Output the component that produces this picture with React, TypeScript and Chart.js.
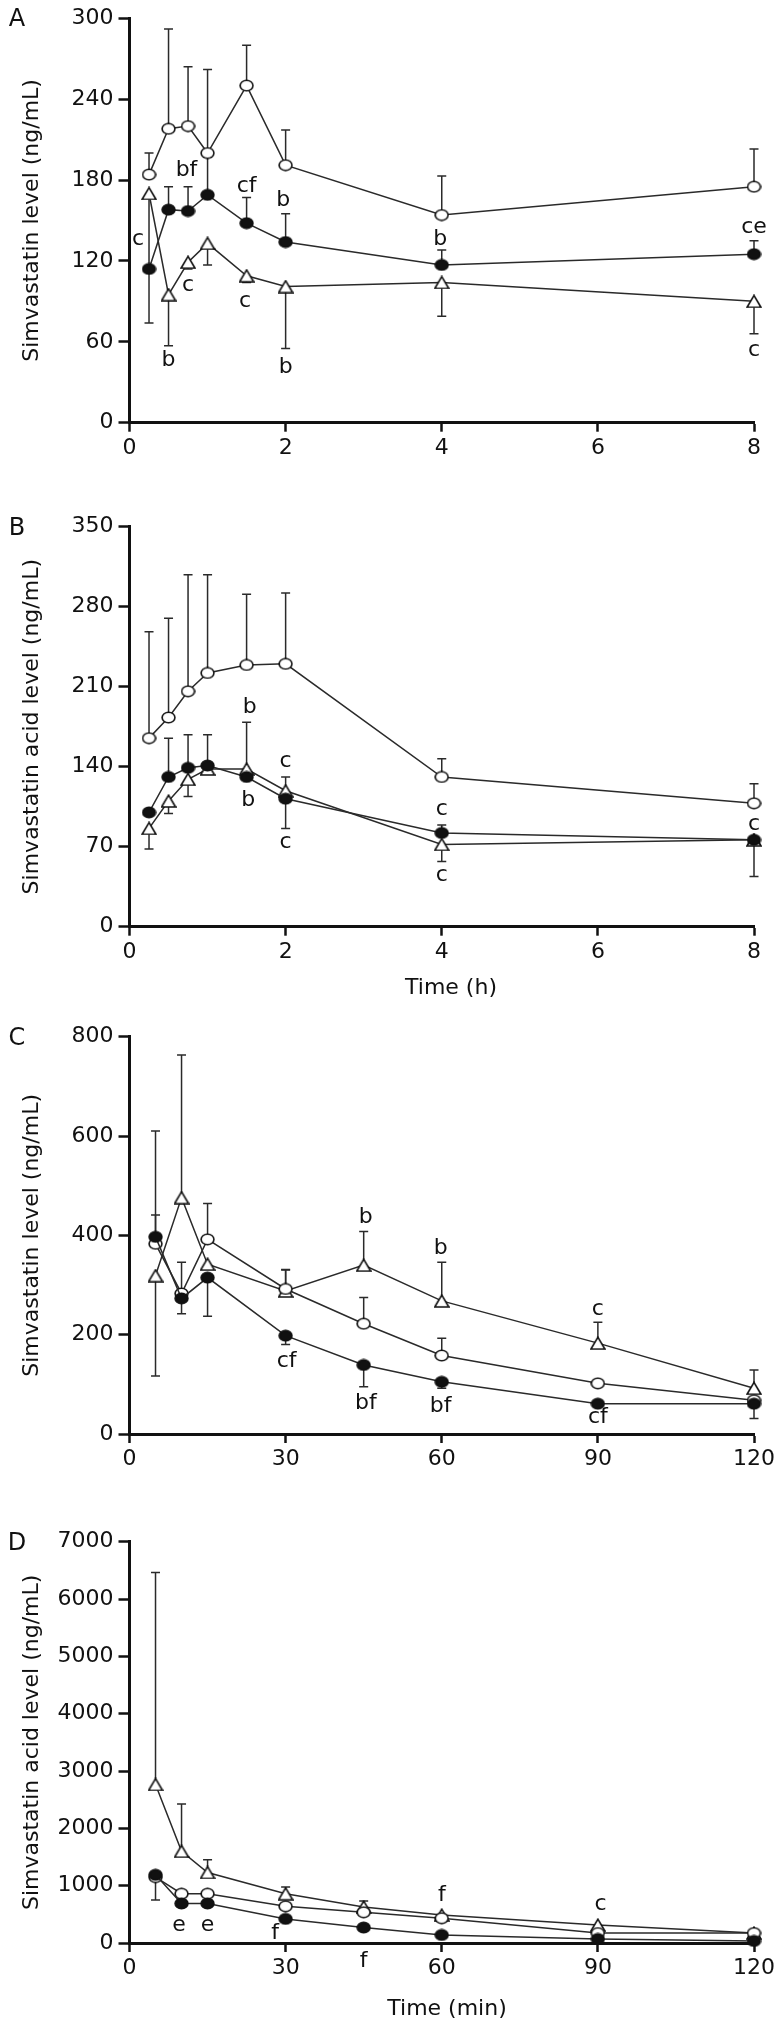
import React, { useEffect, useRef } from "react";
import { Chart, registerables } from "chart.js";

Chart.register(...registerables);

const FONT = '"DejaVu Sans", sans-serif';

// ---------- data ----------
const HOURS = [0.25, 0.5, 0.75, 1, 1.5, 2, 4, 8];
const MINUTES = [5, 10, 15, 30, 45, 60, 90, 120];

// Panel A: simvastatin level (ng/mL), hours
const A_OPEN = [184, 218, 220, 200, 250, 191, 154, 175];
const A_OPEN_ERR = [200, 292, 264, 262, 280, 217, 183, 203];
const A_FILLED = [114, 158, 157, 169, 148, 134, 117, 125];
const A_FILLED_ERR = [null, 175, 175, 197, 167, 155, 128, 135];
const A_TRI = [170, 95, 119, 133, 109, 101, 104, 90];
const A_TRI_ERR = [74, 57, 114, 117, 104, 55, 79, 66];
const A_NOTES: [number, number, string][] = [
  [0.11, 136, "c"], [0.5, 46, "b"], [0.73, 187, "bf"], [0.75, 102, "c"],
  [1.5, 175, "cf"], [1.48, 90, "c"], [1.97, 165, "b"], [2, 41, "b"],
  [3.98, 136, "b"], [8, 145, "ce"], [8, 54, "c"],
];

// Panel B: simvastatin acid level (ng/mL), hours
const B_OPEN = [165, 183, 206, 222, 229, 230, 131, 108];
const B_OPEN_ERR = [258, 270, 308, 308, 291, 292, 147, 125];
const B_FILLED = [100, 131, 139, 141, 131, 112, 82, 76];
const B_FILLED_ERR = [null, 165, 168, 168, 179, 86, 89, 44];
const B_TRI = [86, 110, 129, 138, 138, 119, 72, 76];
const B_TRI_ERR = [68, 99, 114, null, null, 131, 57, null];
const B_NOTES: [number, number, string][] = [
  [1.54, 192, "b"], [1.52, 111, "b"], [2, 145, "c"], [2, 74, "c"],
  [4, 103, "c"], [4, 45, "c"], [8, 90, "c"],
];

// Panel C: simvastatin level (ng/mL), minutes
const C_OPEN = [383, 283, 392, 292, 222, 158, 102, 68];
const C_OPEN_ERR = [441, 346, 464, 330, 275, 193, null, null];
const C_FILLED = [397, 273, 315, 198, 139, 105, 61, 61];
const C_FILLED_ERR = [610, 242, 237, 180, 95, 92, null, 31];
const C_TRI = [319, 476, 342, 288, 340, 268, 183, 92];
const C_TRI_ERR = [117, 763, null, 331, 408, 346, 225, 129];
const C_NOTES: [number, number, string][] = [
  [45.4, 437, "b"], [59.8, 373, "b"], [90, 252, "c"], [30.2, 146, "cf"],
  [45.4, 62, "bf"], [59.8, 56, "bf"], [90, 33, "cf"],
];

// Panel D: simvastatin acid level (ng/mL), minutes
const D_OPEN = [1150, 860, 860, 640, 536, 432, 174, 174];
const D_OPEN_ERR = [null, null, null, null, null, null, null, null];
const D_FILLED = [1190, 690, 690, 420, 270, 140, 70, 35];
const D_FILLED_ERR = [750, null, null, null, null, null, null, null];
const D_TRI = [2765, 1600, 1230, 860, 630, 488, 313, 174];
const D_TRI_ERR = [6463, 2424, 1450, 975, 731, null, null, null];
const D_NOTES: [number, number, string][] = [
  [9.5, 310, "e"], [15, 310, "e"], [28, 174, "f"], [45, -313, "f"],
  [60, 836, "f"], [90.5, 683, "c"],
];

const A_Y_TICKS = [0, 60, 120, 180, 240, 300];
const B_Y_TICKS = [0, 70, 140, 210, 280, 350];
const C_Y_TICKS = [0, 200, 400, 600, 800];
const D_Y_TICKS = [0, 1000, 2000, 3000, 4000, 5000, 6000, 7000];
const H_X_TICKS = [0, 2, 4, 6, 8];
const M_X_TICKS = [0, 30, 60, 90, 120];

type Kind = "open" | "filled" | "tri";
type Series = { kind: Kind; values: number[]; errs: (number | null)[] };
type Panel = {
  letter: string;
  top: number;
  height: number;
  plotTop: number;
  plotBottom: number;
  yTitle: string;
  xTitle?: string;
  xTitleX?: number;
  xTitleY?: number;
  times: number[];
  xTicks: number[];
  yTicks: number[];
  series: Series[];
  notes: [number, number, string][];
};

const PANELS: Panel[] = [
  {
    letter: "A", top: 0, height: 470, plotTop: 18, plotBottom: 422.7,
    yTitle: "Simvastatin level (ng/mL)", times: HOURS, xTicks: H_X_TICKS, yTicks: A_Y_TICKS,
    series: [
      { kind: "filled", values: A_FILLED, errs: A_FILLED_ERR },
      { kind: "open", values: A_OPEN, errs: A_OPEN_ERR },
      { kind: "tri", values: A_TRI, errs: A_TRI_ERR },
    ],
    notes: A_NOTES,
  },
  {
    letter: "B", top: 470, height: 540, plotTop: 526.7, plotBottom: 926.7,
    yTitle: "Simvastatin acid level (ng/mL)", xTitle: "Time (h)", xTitleX: 451, xTitleY: 988,
    times: HOURS, xTicks: H_X_TICKS, yTicks: B_Y_TICKS,
    series: [
      { kind: "filled", values: B_FILLED, errs: B_FILLED_ERR },
      { kind: "open", values: B_OPEN, errs: B_OPEN_ERR },
      { kind: "tri", values: B_TRI, errs: B_TRI_ERR },
    ],
    notes: B_NOTES,
  },
  {
    letter: "C", top: 1010, height: 480, plotTop: 1036.7, plotBottom: 1434,
    yTitle: "Simvastatin level (ng/mL)", times: MINUTES, xTicks: M_X_TICKS, yTicks: C_Y_TICKS,
    series: [
      { kind: "filled", values: C_FILLED, errs: C_FILLED_ERR },
      { kind: "open", values: C_OPEN, errs: C_OPEN_ERR },
      { kind: "tri", values: C_TRI, errs: C_TRI_ERR },
    ],
    notes: C_NOTES,
  },
  {
    letter: "D", top: 1490, height: 536, plotTop: 1541.7, plotBottom: 1943,
    yTitle: "Simvastatin acid level (ng/mL)", xTitle: "Time (min)", xTitleX: 447, xTitleY: 2009,
    times: MINUTES, xTicks: M_X_TICKS, yTicks: D_Y_TICKS,
    series: [
      { kind: "filled", values: D_FILLED, errs: D_FILLED_ERR },
      { kind: "open", values: D_OPEN, errs: D_OPEN_ERR },
      { kind: "tri", values: D_TRI, errs: D_TRI_ERR },
    ],
    notes: D_NOTES,
  },
];

const AXIS_LEFT = 129.5;
const AXIS_RIGHT_PAD = 781 - 754;
const INK = "#111111";
const LINE = "#2a2a2a";

function makeMarker(kind: Kind): HTMLCanvasElement {
  const c = document.createElement("canvas");
  const g = c.getContext("2d") as CanvasRenderingContext2D;
  if (kind === "tri") {
    c.width = 16;
    c.height = 14;
    g.lineWidth = 1.6;
    g.strokeStyle = INK;
    g.fillStyle = "#ffffff";
    g.beginPath();
    g.moveTo(8, 1.2);
    g.lineTo(15, 13);
    g.lineTo(1, 13);
    g.closePath();
    g.fill();
    g.stroke();
  } else {
    c.width = 15;
    c.height = 13;
    g.lineWidth = 1.6;
    g.strokeStyle = INK;
    g.fillStyle = kind === "filled" ? INK : "#ffffff";
    g.beginPath();
    g.ellipse(7.5, 6.5, 6.4, 5.3, 0, 0, Math.PI * 2);
    g.fill();
    g.stroke();
  }
  return c;
}

function PanelChart({ p }: { p: Panel }) {
  const ref = useRef<HTMLCanvasElement | null>(null);
  useEffect(() => {
    if (!ref.current) return;
    const markers = {
      open: makeMarker("open"),
      filled: makeMarker("filled"),
      tri: makeMarker("tri"),
    };
    const xMax = p.xTicks[p.xTicks.length - 1];
    const yMax = p.yTicks[p.yTicks.length - 1];
    const xStep = p.xTicks[1] - p.xTicks[0];
    const yStep = p.yTicks[1] - p.yTicks[0];
    const padTop = p.plotTop - p.top;
    const xHeight = p.top + p.height - p.plotBottom;

    const plugin = {
      id: "panelExtras" + p.letter,
      beforeDatasetsDraw(chart: any) {
        const ctx = chart.ctx;
        const xs = chart.scales.x;
        const ys = chart.scales.y;
        ctx.save();
        ctx.strokeStyle = LINE;
        ctx.lineWidth = 1.5;
        p.series.forEach((s) => {
          s.errs.forEach((e, j) => {
            if (e === null || e === undefined) return;
            const x = xs.getPixelForValue(p.times[j]);
            const y1 = ys.getPixelForValue(s.values[j]);
            const y2 = ys.getPixelForValue(e);
            ctx.beginPath();
            ctx.moveTo(x, y1);
            ctx.lineTo(x, y2);
            ctx.moveTo(x - 4.5, y2);
            ctx.lineTo(x + 4.5, y2);
            ctx.stroke();
          });
        });
        ctx.restore();
      },
      afterDatasetsDraw(chart: any) {
        const ctx = chart.ctx;
        const xs = chart.scales.x;
        const ys = chart.scales.y;
        ctx.save();
        ctx.fillStyle = INK;
        ctx.font = "22px " + FONT;
        ctx.textAlign = "center";
        ctx.textBaseline = "middle";
        p.notes.forEach(([t, v, txt]) => {
          ctx.fillText(txt, xs.getPixelForValue(t), ys.getPixelForValue(v));
        });
        ctx.restore();
      },
      afterDraw(chart: any) {
        const ctx = chart.ctx;
        ctx.save();
        ctx.fillStyle = INK;
        ctx.textAlign = "center";
        ctx.textBaseline = "middle";
        ctx.font = "24px " + FONT;
        ctx.fillText(p.letter, 17, padTop + 2);
        if (p.xTitle && p.xTitleX !== undefined && p.xTitleY !== undefined) {
          ctx.font = "22px " + FONT;
          ctx.fillText(p.xTitle, p.xTitleX, p.xTitleY - p.top);
        }
        ctx.restore();
      },
    };

    const datasets = p.series.map((s) => ({
      label: s.kind,
      data: p.times.map((t, j) => ({ x: t, y: s.values[j] })),
      borderColor: LINE,
      borderWidth: 1.5,
      pointStyle: markers[s.kind],
      pointRadius: 6,
      pointHoverRadius: 6,
      tension: 0,
      fill: false,
      clip: false as any,
    }));

    const chart = new Chart(ref.current, {
      type: "line",
      data: { datasets },
      options: {
        responsive: false,
        animation: false,
        devicePixelRatio: 1,
        layout: { padding: { top: padTop, right: AXIS_RIGHT_PAD, bottom: 0, left: 0 } },
        plugins: { legend: { display: false }, tooltip: { enabled: false } },
        events: [],
        scales: {
          x: {
            type: "linear",
            min: 0,
            max: xMax,
            afterBuildTicks: (scale: any) => {
              scale.ticks = p.xTicks.map((v) => ({ value: v }));
            },
            afterFit: (scale: any) => {
              scale.height = xHeight;
            },
            ticks: {
              stepSize: xStep,
              autoSkip: false,
              maxRotation: 0,
              padding: 3,
              color: INK,
              font: { family: FONT, size: 22 },
              callback: (v: any) => String(v),
            },
            grid: {
              display: true,
              drawOnChartArea: false,
              drawTicks: true,
              tickLength: 9,
              tickWidth: 2.5,
              tickColor: INK,
              color: INK,
            },
            border: { display: true, color: INK, width: 3 },
          },
          y: {
            type: "linear",
            min: 0,
            max: yMax,
            afterBuildTicks: (scale: any) => {
              scale.ticks = p.yTicks.map((v) => ({ value: v }));
            },
            afterFit: (scale: any) => {
              scale.width = AXIS_LEFT;
            },
            ticks: {
              stepSize: yStep,
              autoSkip: false,
              padding: 5,
              color: INK,
              font: { family: FONT, size: 22 },
              callback: (v: any) => String(v),
            },
            grid: {
              display: true,
              drawOnChartArea: false,
              drawTicks: true,
              tickLength: 11,
              tickWidth: 2.5,
              tickColor: INK,
              color: INK,
            },
            border: { display: true, color: INK, width: 3 },
            title: {
              display: true,
              text: p.yTitle,
              color: INK,
              font: { family: FONT, size: 22 },
              padding: { top: 19, bottom: 0 },
            },
          },
        },
      },
      plugins: [plugin],
    } as any);
    return () => chart.destroy();
  }, [p]);

  return (
    <canvas
      ref={ref}
      width={781}
      height={p.height}
      style={{ position: "absolute", left: 0, top: p.top, width: 781, height: p.height }}
    />
  );
}

export default function App() {
  return (
    <div style={{ position: "absolute", left: 0, top: 0, width: 781, height: 2026, background: "#fff" }}>
      {PANELS.map((p) => (
        <PanelChart key={p.letter} p={p} />
      ))}
    </div>
  );
}
